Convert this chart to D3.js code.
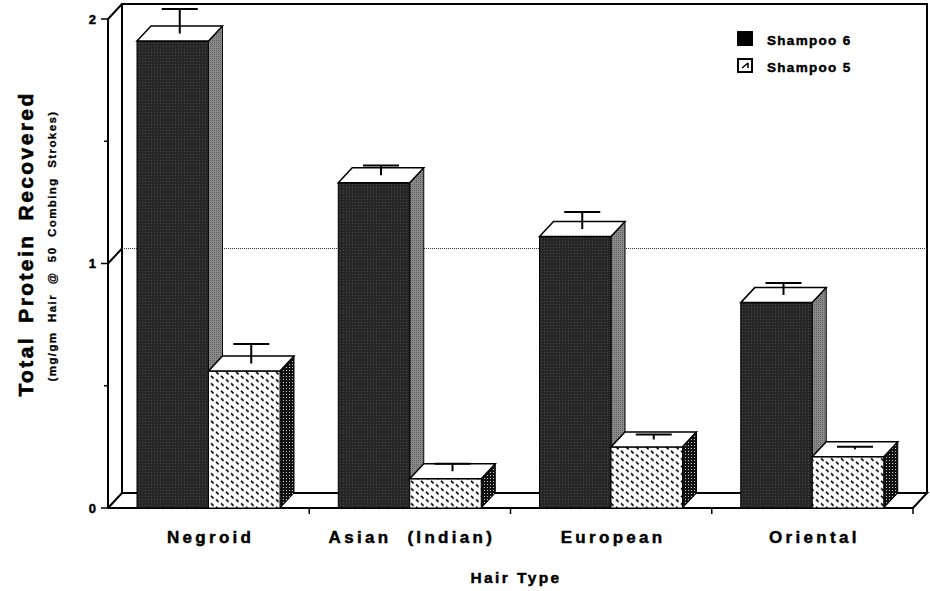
<!DOCTYPE html>
<html>
<head>
<meta charset="UTF-8" />
<style>
    body { margin: 0; padding: 0; background: #fff; }
    text { font-family: "Liberation Sans", Arial, sans-serif; font-weight: bold; fill: #000; stroke: #000; stroke-width: 0.45px; }
</style>
<title>Total Protein Recovered</title>
</head>
<body>
<svg width="930" height="591"></svg>
<script src="https://d3js.org/d3.v7.min.js"></script>
<script>
    // data
    const categories = ["Negroid", "Asian  (Indian)", "European", "Oriental"];
    const series = ["Shampoo 6", "Shampoo 5"];
    const shampoo6 = [1.91, 1.33, 1.11, 0.84];
    const shampoo6Err = [0.10, 0.04, 0.07, 0.05];
    const shampoo5 = [0.56, 0.12, 0.25, 0.21];
    const shampoo5Err = [0.08, 0.03, 0.02, 0.01];
    const yTicks = [0, 1, 2];
    const yMinorTicks = [0.5, 1.5];

    const svg = d3.select("svg");
    const dx = 14, dy = -15;   // depth of the 3d box

    const y = d3.scaleLinear().domain([0, 2]).range([508, 19]);
    const x0 = d3.scaleBand().domain(categories).range([108, 913]);
    const x1 = d3.scaleBand().domain(series).range([29, 172]);

    // patterns
    const defs = svg.append("defs");
    let p = defs.append("pattern").attr("id", "dark").attr("width", 3).attr("height", 3).attr("patternUnits", "userSpaceOnUse");
    p.append("rect").attr("width", 3).attr("height", 3).attr("fill", "#262626");
    p.append("rect").attr("x", 1).attr("y", 1).attr("width", 1).attr("height", 1).attr("fill", "#4a4a4a");

    p = defs.append("pattern").attr("id", "grey").attr("width", 2).attr("height", 2).attr("patternUnits", "userSpaceOnUse");
    p.append("rect").attr("width", 2).attr("height", 2).attr("fill", "#8a8a8a");
    p.append("rect").attr("width", 1).attr("height", 1).attr("fill", "#5e5e5e");

    p = defs.append("pattern").attr("id", "dots").attr("width", 3).attr("height", 3).attr("patternUnits", "userSpaceOnUse");
    p.append("rect").attr("width", 3).attr("height", 3).attr("fill", "#111");
    p.append("rect").attr("x", 1).attr("y", 1).attr("width", 1).attr("height", 1).attr("fill", "#ccc");

    // short "\" strokes on a staggered grid
    p = defs.append("pattern").attr("id", "dash").attr("width", 10).attr("height", 7.5).attr("patternUnits", "userSpaceOnUse");
    p.append("rect").attr("width", 10).attr("height", 7.5).attr("fill", "#fff");
    p.append("path").attr("d", "M1,0.8 L3.6,3.4 M6,4.3 L8.6,6.9").attr("stroke", "#000").attr("stroke-width", 1.6);

    const fills = {
        "Shampoo 6": { front: "url(#dark)", side: "url(#grey)" },
        "Shampoo 5": { front: "url(#dash)", side: "url(#dots)" }
    };

    const xl = x0.range()[0], xr = x0.range()[1];
    const y0 = y(0), yTop = y(2);

    // back wall
    svg.append("path")
        .attr("d", `M${xl + dx},${y0 + dy} L${xl + dx},${yTop + dy} L${xr + dx},${yTop + dy} L${xr + dx},${y0 + dy}`)
        .attr("fill", "none").attr("stroke", "#000").attr("stroke-width", 2);

    // gridline on back wall
    svg.append("line")
        .attr("x1", xl + dx).attr("x2", xr + dx)
        .attr("y1", y(1) + dy).attr("y2", y(1) + dy)
        .attr("stroke", "#333").attr("stroke-width", 1).attr("stroke-dasharray", "1,1");

    // left wall diagonals
    svg.selectAll(".diag").data(yTicks).enter().append("line")
        .attr("x1", xl).attr("y1", d => y(d))
        .attr("x2", xl + dx).attr("y2", d => y(d) + dy)
        .attr("stroke", "#000").attr("stroke-width", 2);

    // floor
    svg.append("path")
        .attr("d", `M${xl},${y0} L${xr},${y0} L${xr + dx},${y0 + dy} L${xl + dx},${y0 + dy}`)
        .attr("fill", "none").attr("stroke", "#000").attr("stroke-width", 2);

    // y axis line and ticks
    svg.append("line").attr("x1", xl).attr("x2", xl).attr("y1", y0).attr("y2", yTop)
        .attr("stroke", "#000").attr("stroke-width", 2);
    svg.selectAll(".ytick").data(yTicks).enter().append("line")
        .attr("x1", xl - 7).attr("x2", xl).attr("y1", d => y(d)).attr("y2", d => y(d))
        .attr("stroke", "#000").attr("stroke-width", 1.5);
    svg.selectAll(".ymin").data(yMinorTicks).enter().append("line")
        .attr("x1", xl - 4).attr("x2", xl).attr("y1", d => y(d)).attr("y2", d => y(d))
        .attr("stroke", "#000").attr("stroke-width", 1.5);
    svg.selectAll(".ylab").data(yTicks).enter().append("text")
        .attr("x", xl - 12).attr("y", d => y(d) + 4.5)
        .attr("text-anchor", "end").attr("font-size", 13)
        .text(d => d);

    // x ticks at band edges
    svg.selectAll(".xtick").data(categories.slice(1).concat([null])).enter().append("line")
        .attr("x1", d => d ? x0(d) : xr).attr("x2", d => d ? x0(d) : xr)
        .attr("y1", y0).attr("y2", y0 + 6)
        .attr("stroke", "#000").attr("stroke-width", 1.5);

    // bars
    const values = { "Shampoo 6": shampoo6, "Shampoo 5": shampoo5 };
    const errs = { "Shampoo 6": shampoo6Err, "Shampoo 5": shampoo5Err };
    const w = x1.bandwidth();

    categories.forEach((c, i) => {
        series.forEach(s => {
            const v = values[s][i], e = errs[s][i];
            const bx = x0(c) + x1(s), by = y(v);
            const g = svg.append("g");
            g.append("path")
                .attr("d", `M${bx + w},${by} L${bx + w + dx},${by + dy} L${bx + w + dx},${y0 + dy} L${bx + w},${y0} Z`)
                .attr("fill", fills[s].side).attr("stroke", "#000").attr("stroke-width", 1);
            g.append("rect")
                .attr("x", bx).attr("y", by).attr("width", w).attr("height", y0 - by)
                .attr("fill", fills[s].front).attr("stroke", "#000").attr("stroke-width", 1);
            g.append("path")
                .attr("d", `M${bx},${by} L${bx + dx},${by + dy} L${bx + w + dx},${by + dy} L${bx + w},${by} Z`)
                .attr("fill", "#fff").attr("stroke", "#000").attr("stroke-width", 1.5);
            // error bar in the middle of the box depth
            const cx = bx + w / 2 + dx / 2;
            g.append("path")
                .attr("d", `M${cx},${by + dy / 2} L${cx},${y(v + e) + dy / 2} M${cx - 18},${y(v + e) + dy / 2} L${cx + 18},${y(v + e) + dy / 2}`)
                .attr("fill", "none").attr("stroke", "#000").attr("stroke-width", 2);
        });
    });

    // category labels
    svg.selectAll(".xlab").data(categories).enter().append("text")
        .attr("x", d => x0(d) + x0.bandwidth() / 2 + 2)
        .attr("y", 543)
        .attr("text-anchor", "middle").attr("font-size", 17)
        .attr("letter-spacing", 3.3)
        .style("white-space", "pre")
        .text(d => d);

    svg.append("text")
        .attr("x", 516).attr("y", 583)
        .attr("text-anchor", "middle").attr("font-size", 15.5)
        .attr("letter-spacing", 2.4)
        .text("Hair Type");

    // y titles
    svg.append("text")
        .attr("transform", "translate(33,244) rotate(-90)")
        .attr("text-anchor", "middle").attr("font-size", 21)
        .attr("letter-spacing", 2.4).attr("word-spacing", 5)
        .style("stroke-width", "0.6px")
        .text("Total Protein Recovered");
    svg.append("text")
        .attr("transform", "translate(56,246) rotate(-90)")
        .attr("text-anchor", "middle").attr("font-size", 11.5)
        .attr("letter-spacing", 1.4).attr("word-spacing", 5)
        .style("stroke-width", "0.3px")
        .text("(mg/gm Hair @ 50 Combing Strokes)");

    // legend
    const legend = svg.selectAll(".leg").data(series).enter().append("g")
        .attr("transform", (d, i) => `translate(738,${32 + i * 27})`);
    legend.append("rect")
        .attr("width", 14).attr("height", 13)
        .attr("fill", d => d === "Shampoo 6" ? "#000" : "#fff")
        .attr("stroke", "#000").attr("stroke-width", 2);
    legend.filter(d => d === "Shampoo 5").append("path")
        .attr("d", "M4,9 L10,4 M10,4 L10,9")
        .attr("stroke", "#000").attr("stroke-width", 1.5).attr("fill", "none");
    legend.append("text")
        .attr("x", 29).attr("y", 12.5)
        .attr("font-size", 13.5).attr("letter-spacing", 1.3)
        .text(d => d);
</script>
</body>
</html>
